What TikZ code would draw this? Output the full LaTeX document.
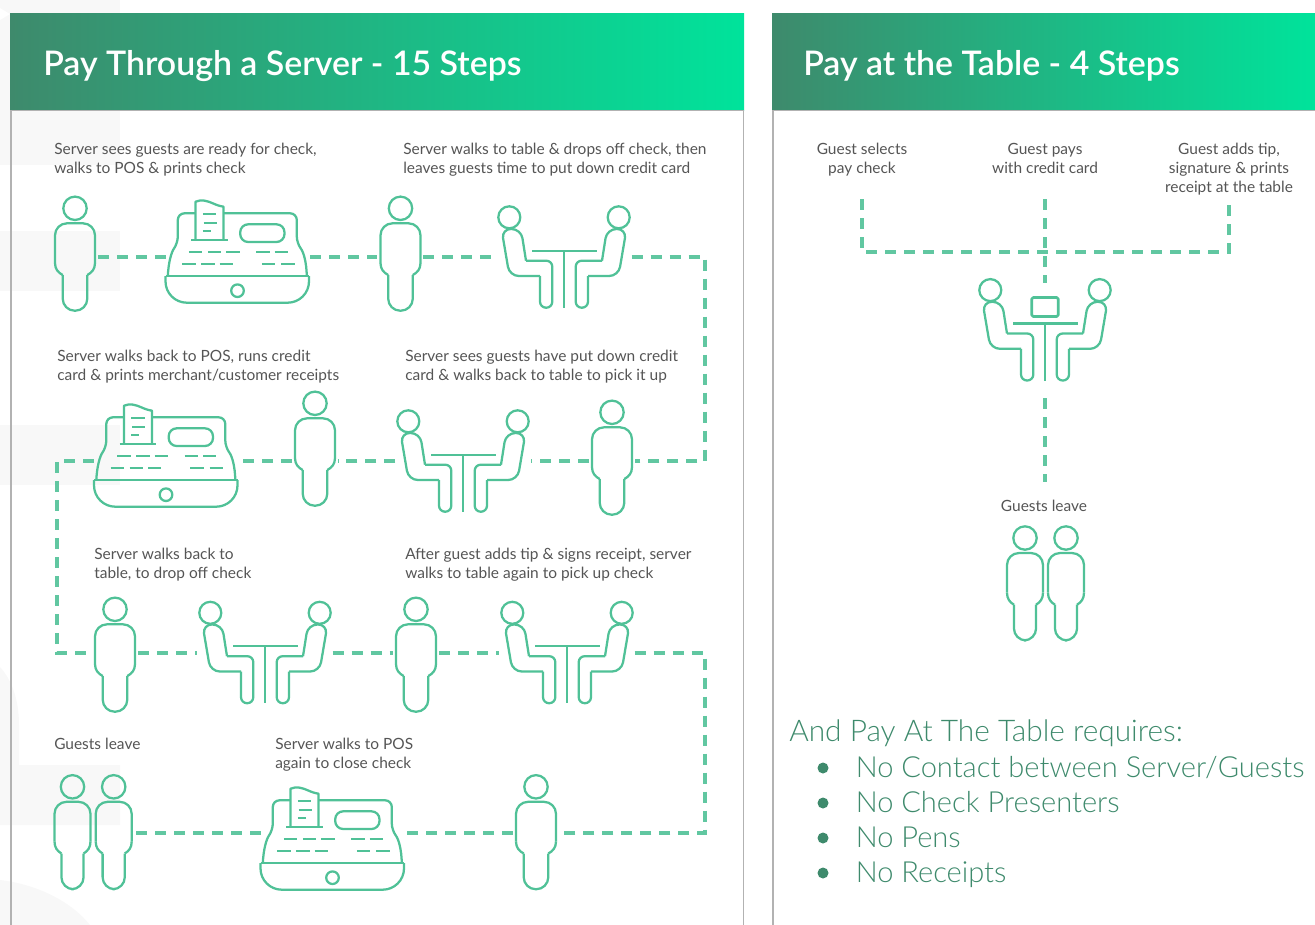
\documentclass[tikz,border=0pt]{standalone}
\usepackage{fontspec}
\setmainfont{Lato}
\newfontfamily\lightfont{Lato Light}
\newfontfamily\headfont{Lato Semibold}
\usetikzlibrary{positioning,calc}
\definecolor{mint}{HTML}{50C197}
\definecolor{deepgreen}{HTML}{3E8A6C}
\definecolor{brightgreen}{HTML}{00E39B}
\definecolor{ghost}{HTML}{F8F8F8}
\definecolor{inktext}{HTML}{555555}

\begin{document}
\begin{tikzpicture}[x=0.75pt,y=-0.75pt]
	% styles for panels, icons and connectors
	\tikzstyle{iconline} = [draw=mint,line width=1.7pt,line join=round]
	\tikzstyle{link} = [draw=mint!90,line width=2.5pt,dash pattern=on 8.25pt off 6pt]
	\tikzstyle{panelline} = [draw=black!30,line width=1pt]
	\tikzstyle{title} = [anchor=west,inner sep=0,text=white,font=\fontsize{25.4}{30}\headfont]
	\tikzstyle{note} = [anchor=north west,inner sep=0,align=left,text=inktext,font=\fontsize{11.6}{14.25}\selectfont]
	\tikzstyle{midnote} = [note,anchor=north,align=center]
	\tikzstyle{require} = [anchor=base west,inner sep=0,text=deepgreen,font=\fontsize{21.8}{26}\lightfont]
	\tikzstyle{personbox} = [minimum width=34pt,minimum height=20pt,inner sep=0]
	\tikzstyle{pairbox} = [minimum width=60pt,minimum height=20pt,inner sep=0]
	\tikzstyle{tillbox} = [minimum width=108pt,minimum height=20pt,inner sep=0]
	\tikzstyle{tablebox} = [minimum width=101pt,minimum height=20pt,inner sep=0]
	\tikzset{
		person/.pic={
			\draw[iconline] (0,-48.7) circle (11.7);
			\begin{scope}[xscale=#1]
				\draw[iconline,rounded corners=9pt] (20,6) -- (20,-33.7) -- (-20,-33.7) -- (-20,6);
				\draw[iconline] (20,6) .. controls (20,12) and (17,15.5) .. (12.3,18) (-20,6) .. controls (-20,12) and (-17,15.5) .. (-12.3,18);
				\draw[iconline,rounded corners=9pt] (-12.3,18) -- (-12.3,53.7) -- (12.3,53.7) -- (12.3,18);
			\end{scope}
		},
		till/.pic={
			\draw[iconline] (-72,19) -- (71.5,19);
			\draw[iconline,rounded corners=16pt] (-72,19) -- (-72,45.7) -- (71.5,45.7) -- (71.5,19);
			\draw[iconline,rounded corners=5pt] (-69.7,19) .. controls (-69,5) and (-66,-5) .. (-59.7,-13.7) -- (-59.7,-43.7) -- (-42,-43.7);
			\draw[iconline,rounded corners=5pt] (-14,-43.7) -- (59.3,-43.7) -- (59.3,-13.7) .. controls (66,-5) and (69,5) .. (69.3,19);
			\draw[iconline] (-42,-17) -- (-42,-55.3) .. controls (-36,-58) and (-30,-56) .. (-24.7,-53.7) .. controls (-21,-52) and (-18,-51) .. (-14,-50.3) -- (-14,-17);
			\draw[iconline] (-46.3,-17) -- (-9.7,-17);
			\draw[iconline] (-34.7,-43) -- (-21.3,-43) (-34,-34) -- (-21,-34) (-34.7,-26.3) -- (-27,-26.3);
			\draw[iconline,rounded corners=6pt] (2.7,-32.7) rectangle (47,-15);
			\foreach \k in {-48.7,-29.7,-11.3,18.7,37} \draw[iconline] (\k,-4.7) -- ++(13.4,0);
			\foreach \k in {-55.3,-36.3,-18,24.3,43.7} \draw[iconline] (\k,7) -- ++(13.4,0);
			\draw[iconline] (0,33.7) circle (6.3);
		},
		diners/.pic={
			\draw[iconline] (-32,-6.3) -- (32.7,-6.3) (0,-6.3) -- (0,50.7);
			\foreach \s in {1,-1} {
				\begin{scope}[xscale=\s]
					\draw[iconline] (-54.7,-39.7) circle (11);
					\draw[iconline,rounded corners=7pt] (-38,3.7) -- (-43,-28) -- (-62.5,-28) -- (-54.5,19) [sharp corners] -- (-24,19);
					\draw[iconline,rounded corners=4.5pt] (-24,19) -- (-24,50.7) -- (-11.7,50.7) -- (-11.7,3.7) -- (-38,3.7);
				\end{scope}
			}
		},
		laptop/.pic={
			\draw[iconline,line width=2pt,rounded corners=1.2pt] (-13.3,-32.3) rectangle (13.3,-13.3);
		},
	}
	\useasboundingbox (0,0) rectangle (1315,925);

	% faint marks behind the left panel
	\fill[ghost] (0,0) rectangle (120,165);
	\fill[white] (0,8) -- (10,14) -- (0,20) -- cycle;
	\fill[ghost] (0,231) rectangle (120,291);
	\fill[ghost] (0,425) rectangle (120,485);
	\fill[ghost] (0,667) .. controls (12,680) and (19,700) .. (19,725) -- (19,765) -- (120,765) -- (120,825) -- (0,825) -- cycle;
	\fill[ghost] (0,880) .. controls (35,884) and (70,900) .. (90,925) -- (0,925) -- cycle;

	% the two panels
	\shade[left color=deepgreen,right color=brightgreen] (10,13) rectangle (744,110);
	\shade[left color=deepgreen,right color=brightgreen] (772,13) rectangle (1315,110);
	\draw[panelline] (11,925) -- (11,110.5) -- (743.5,110.5) -- (743.5,925);
	\draw[panelline] (773,925) -- (773,110.5) -- (1315,110.5);
	\node (titleA) [title] at (43,66) {Pay Through a Server - 15 Steps};
	\node (titleB) [title] at (803,66) {Pay at the Table - 4 Steps};

	% step notes
	\node (noteA) [note] at (54,142.5) {Server sees guests are ready for check,\\walks to POS \& prints check};
	\node (noteB) [note] at (403,142.5) {Server walks to table \& drops off check, then\\leaves guests time to put down credit card};
	\node (noteC) [note] at (57,349.5) {Server walks back to POS, runs credit\\card \& prints merchant/customer receipts};
	\node (noteD) [note] at (405,349.5) {Server sees guests have put down credit\\card \& walks back to table to pick it up};
	\node (noteE) [note] at (94,547.5) {Server walks back to\\table, to drop off check};
	\node (noteF) [note] at (405,547.5) {After guest adds tip \& signs receipt, server\\walks to table again to pick up check};
	\node (noteG) [note] at (54,737.5) {Guests leave};
	\node (noteH) [note] at (275,737.5) {Server walks to POS\\again to close check};
	\node (noteI) [midnote] at (862,142.5) {Guest selects\\pay check};
	\node (noteJ) [midnote] at (1045,143.5) {Guest pays\\with credit card};
	\node (noteK) [midnote] at (1229,142.5) {Guest adds tip,\\signature \& prints\\receipt at the table};
	\node (noteL) [midnote] at (1044,499.5) {Guests leave};

	% row one
	\node (srvA) [personbox] at (75,257) {};
	\node (tillA) [tillbox] at (238,257) {};
	\node (srvB) [personbox] at (400,257) {};
	\node (tabA) [tablebox] at (564,257) {};
	\coordinate (turnA) at (705,257);
	\pic at (75,257) {person=1};
	\pic at (237.5,257) {till};
	\pic at (400.5,257) {person=1};
	\pic at (564,257) {diners};

	% row two
	\node (tillB) [tillbox] at (166,461) {};
	\node (srvC) [personbox] at (315,461) {};
	\node (tabB) [tablebox] at (463,461) {};
	\node (srvD) [personbox] at (612,461) {};
	\coordinate (turnB) at (705,461);
	\coordinate (turnC) at (57,461);
	\pic at (166,461) {till};
	\pic at (315,452) {person=1};
	\pic at (463,461) {diners};
	\pic at (612,461) {person=1};

	% row three
	\node (srvE) [personbox] at (115,653) {};
	\node (tabC) [tablebox] at (265,653) {};
	\node (srvF) [personbox] at (416,653) {};
	\node (tabD) [tablebox] at (567,653) {};
	\coordinate (turnD) at (57,653);
	\coordinate (turnE) at (705,653);
	\pic at (115,658) {person=1};
	\pic at (265,652.5) {diners};
	\pic at (416,658) {person=1};
	\pic at (567,652.5) {diners};

	% row four
	\node (pairA) [pairbox] at (93,833) {};
	\node (tillC) [tillbox] at (333,833) {};
	\node (srvG) [personbox] at (536,833) {};
	\coordinate (turnF) at (705,833);
	\pic at (72.5,835.5) {person=.9};
	\pic at (113.7,835.5) {person=.9};
	\pic at (332.5,844) {till};
	\pic at (536,835.5) {person=1};

	% right panel
	\coordinate (selA) at (862,199);
	\coordinate (selB) at (862,252);
	\coordinate (payA) at (1045,199);
	\coordinate (tipA) at (1229,199);
	\coordinate (tipB) at (1229,252);
	\coordinate (leaveA) at (1045,482);
	\node (tabE) [minimum width=101pt,minimum height=86pt,inner sep=0] at (1045,340.5) {};
	\pic at (1045,329.8) {diners};
	\pic at (1045,329.8) {laptop};
	\pic at (1025,586.7) {person=.9};
	\pic at (1066,586.7) {person=.9};

	% requirements
	\node (reqA) [require,font=\fontsize{22.4}{26}\lightfont] at (789,741) {And Pay At The Table requires:};
	\foreach \y/\t/\n in {777/No Contact between Server\slash Guests/a,812/No Check Presenters/b,847/No Pens/c,882/No Receipts/d} {
		\fill[deepgreen] (823,\y-9) circle (5.5);
		\node (req\n) [require] at (855.5,\y) {\t};
	}

	% connectors
	\draw [link] (srvA) -- (tillA);
	\draw [link] (tillA) -- (srvB);
	\draw [link] (srvB) -- (tabA);
	\draw [link] (tabA) -- (turnA) -- (turnB) -- (srvD);
	\draw [link] (srvD) -- (tabB);
	\draw [link] (tabB) -- (srvC);
	\draw [link] (srvC) -- (tillB);
	\draw [link] (tillB) -- (turnC) -- (turnD) -- (srvE);
	\draw [link] (srvE) -- (tabC);
	\draw [link] (tabC) -- (srvF);
	\draw [link] (srvF) -- (tabD);
	\draw [link] (tabD) -- (turnE) -- (turnF) -- (srvG);
	\draw [link] (srvG) -- (tillC);
	\draw [link] (tillC) -- (pairA);
	\draw [link] (selA) -- (selB) -- (tipB) -- (tipA);
	\draw [link] (payA) -- (tabE);
	\draw [link] (tabE) -- (leaveA);
\end{tikzpicture}
\end{document}
